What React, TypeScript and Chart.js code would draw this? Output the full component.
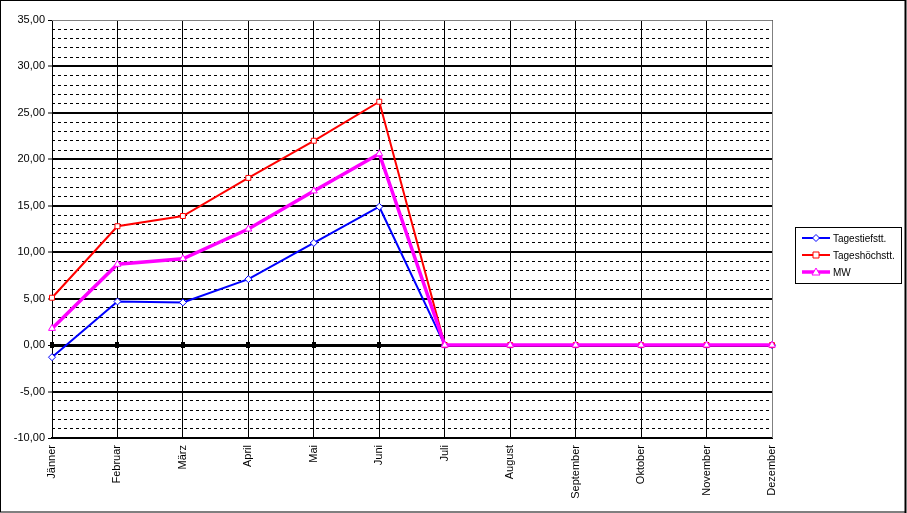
import React, { useEffect, useRef } from "react";
import { Chart, registerables } from "chart.js";

Chart.register(...registerables);

const months = ["Jänner", "Februar", "März", "April", "Mai", "Juni", "Juli", "August", "September", "Oktober", "November", "Dezember"];
const tagestief = [-1.3, 4.7, 4.6, 7.1, 11.0, 14.9, 0, 0, 0, 0, 0, 0];
const tageshoch = [5.1, 12.8, 13.9, 18.0, 22.0, 26.2, 0, 0, 0, 0, 0, 0];
const mittelwert = [1.8, 8.7, 9.3, 12.5, 16.6, 20.6, 0, 0, 0, 0, 0, 0];
const yMin = -10;
const yMax = 35;

const FONT = "'Liberation Sans', Arial, sans-serif";

const decorPlugin = {
  id: "decor",
  beforeDraw(chart: any) {
    const ctx = chart.ctx;
    ctx.save();
    ctx.fillStyle = "#ffffff";
    ctx.fillRect(0, 0, chart.width, chart.height);
    ctx.restore();
  },
  beforeDatasetsDraw(chart: any) {
    const ctx = chart.ctx;
    const x = chart.scales.x;
    const y = chart.scales.y;
    const area = chart.chartArea;
    ctx.save();
    ctx.strokeStyle = "#808080";
    ctx.lineWidth = 1;
    ctx.beginPath();
    ctx.moveTo(area.left, area.top + 0.5);
    ctx.lineTo(area.right + 0.5, area.top + 0.5);
    ctx.lineTo(area.right + 0.5, area.bottom);
    ctx.stroke();
    const y0 = Math.round(y.getPixelForValue(0));
    ctx.fillStyle = "#000000";
    for (let i = 0; i < months.length; i++) {
      const px = Math.round(x.getPixelForValue(i));
      ctx.fillRect(px - 2, y0 - 3, 4, 6);
    }
    ctx.restore();
  },
  afterDraw(chart: any) {
    const ctx = chart.ctx;
    ctx.save();
    ctx.strokeStyle = "#000000";
    ctx.lineWidth = 1;
    ctx.strokeRect(0.5, 0.5, chart.width - 2, chart.height - 1.5);
    ctx.lineWidth = 2;
    ctx.beginPath();
    ctx.moveTo(chart.width - 1.5, 0);
    ctx.lineTo(chart.width - 1.5, chart.height);
    ctx.stroke();
    const lx = 795, ly = 227, lw = 106, lh = 56;
    ctx.lineWidth = 1;
    ctx.strokeRect(lx + 0.5, ly + 0.5, lw, lh);
    ctx.font = `10px ${FONT}`;
    ctx.textBaseline = "middle";
    ctx.fillStyle = "#000000";
    chart.data.datasets.forEach((ds: any, i: number) => {
      const cy = ly + 11 + i * 17;
      const x1 = lx + 7, x2 = lx + 35;
      ctx.strokeStyle = ds.borderColor;
      ctx.lineWidth = ds.borderWidth;
      ctx.beginPath();
      ctx.moveTo(x1, cy);
      ctx.lineTo(x2, cy);
      ctx.stroke();
      ctx.lineWidth = 1;
      ctx.fillStyle = "#ffffff";
      ctx.strokeStyle = ds.pointBorderColor;
      const mx = (x1 + x2) / 2;
      ctx.beginPath();
      if (ds.pointStyle === "rectRot") {
        ctx.moveTo(mx, cy - 3.5);
        ctx.lineTo(mx + 3.5, cy);
        ctx.lineTo(mx, cy + 3.5);
        ctx.lineTo(mx - 3.5, cy);
        ctx.closePath();
      } else if (ds.pointStyle === "rect") {
        ctx.rect(mx - 3, cy - 3, 6, 6);
      } else {
        ctx.moveTo(mx, cy - 4);
        ctx.lineTo(mx + 4, cy + 3);
        ctx.lineTo(mx - 4, cy + 3);
        ctx.closePath();
      }
      ctx.fill();
      ctx.stroke();
      ctx.fillStyle = "#000000";
      ctx.fillText(ds.label, x2 + 3, cy + 1);
    });
    ctx.restore();
  },
};

export default function App() {
  const ref = useRef<HTMLCanvasElement>(null);
  useEffect(() => {
    document.body.style.margin = "0";
    const chart = new Chart(ref.current!, {
      type: "line",
      data: {
        labels: months,
        datasets: [
          {
            label: "Tagestiefstt.",
            data: tagestief,
            order: 3,
            borderColor: "#0000ff",
            borderWidth: 2,
            pointStyle: "rectRot",
            pointRadius: 3.5,
            pointBackgroundColor: "#ffffff",
            pointBorderColor: "#0000ff",
            pointBorderWidth: 1,
            tension: 0,
          },
          {
            label: "Tageshöchstt.",
            data: tageshoch,
            order: 2,
            borderColor: "#ff0000",
            borderWidth: 2,
            pointStyle: "rect",
            pointRadius: 3.5,
            pointBackgroundColor: "#ffffff",
            pointBorderColor: "#ff0000",
            pointBorderWidth: 1,
            tension: 0,
          },
          {
            label: "MW",
            data: mittelwert,
            order: 1,
            borderColor: "#ff00ff",
            borderWidth: 3.5,
            pointStyle: "triangle",
            pointRadius: 4,
            pointBackgroundColor: "#ffffff",
            pointBorderColor: "#ff00ff",
            pointBorderWidth: 1,
            tension: 0,
          },
        ],
      },
      options: {
        responsive: false,
        animation: false,
        devicePixelRatio: 1,
        layout: { padding: { left: 0, top: 20, right: 135, bottom: 0 } },
        plugins: { legend: { display: false }, tooltip: { enabled: false } },
        scales: {
          x: {
            offset: false,
            grid: { color: "#000000", lineWidth: 1, drawTicks: false },
            border: { color: "#000000", width: 2 },
            ticks: {
              color: "#000000",
              font: { family: FONT, size: 11 },
              minRotation: 90,
              maxRotation: 90,
              autoSkip: false,
              padding: 7,
            },
            afterFit: (s: any) => { s.height = 75; },
          },
          yMinor: {
            position: "right",
            min: yMin,
            max: yMax,
            grid: {
              color: (c: any) => (c.tick && c.tick.value % 5 === 0 ? "rgba(0,0,0,0)" : "#000000"),
              lineWidth: 1,
              drawTicks: false,
            },
            border: { display: false, dash: [3, 3] },
            ticks: { stepSize: 1, display: false },
            afterFit: (s: any) => { s.width = 0; },
          },
          y: {
            position: "left",
            min: yMin,
            max: yMax,
            grid: {
              color: "#000000",
              lineWidth: (c: any) => (c.tick && c.tick.value === 0 ? 3 : c.tick && (c.tick.value === yMin || c.tick.value === yMax) ? 1 : 2),
              tickLength: 4,
              tickWidth: 1,
              tickColor: "#000000",
            },
            border: { color: "#000000", width: 1 },
            ticks: {
              stepSize: 5,
              color: "#000000",
              font: { family: FONT, size: 11 },
              padding: 3,
              callback: (v: any) => Number(v).toFixed(2).replace(".", ","),
            },
            afterFit: (s: any) => { s.width = 52; },
          },
        },
      },
      plugins: [decorPlugin],
    });
    return () => chart.destroy();
  }, []);
  return (
    <div style={{ width: 907, height: 513 }}>
      <canvas ref={ref} width={907} height={513} style={{ display: "block" }} />
    </div>
  );
}
